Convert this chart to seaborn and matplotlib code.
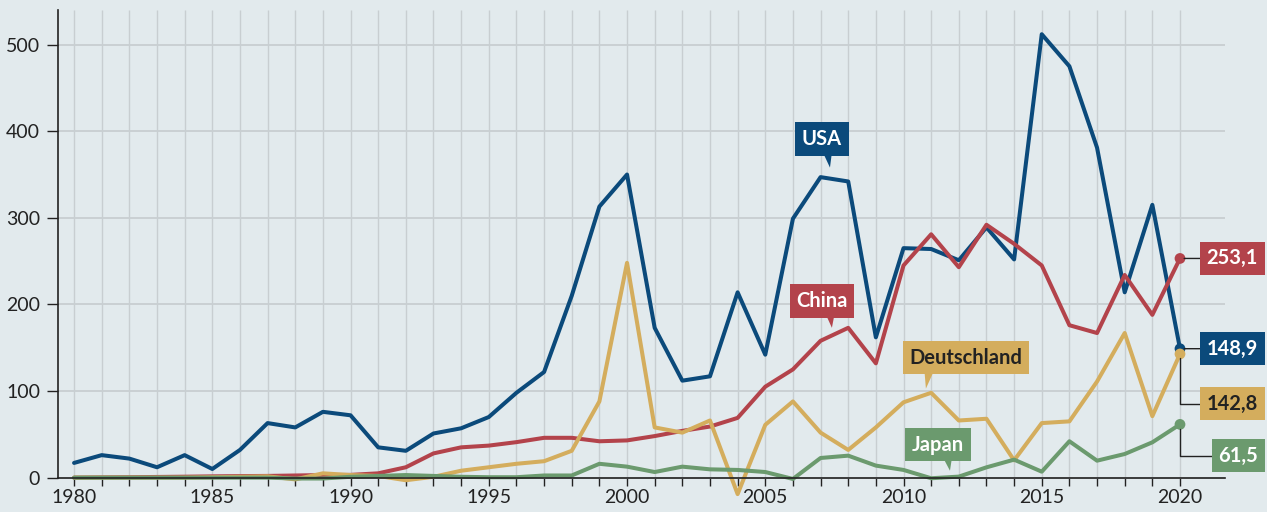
import pandas as pd
import matplotlib
matplotlib.use("Agg")
from matplotlib import pyplot as plt
import seaborn as sns

years = list(range(1980, 2021))

usa = [17, 26, 22, 12, 26, 10, 32, 63, 58, 76,
       72, 35, 31, 51, 57, 70, 98, 122, 210, 313,
       350, 173, 112, 117, 214, 142, 299, 347, 342, 162,
       265, 264, 251, 289, 252, 512, 475, 381, 214, 315,
       148.9]
china = [0, 0.3, 0.5, 0.8, 1.1, 1.5, 1.8, 2, 2.5, 3,
         3.2, 5, 12, 28, 35, 37, 41, 46, 46, 42,
         43, 48, 54, 59, 69, 105, 125, 158, 173, 132,
         245, 281, 243, 292, 270, 245, 176, 167, 234, 188,
         253.1]
germany = [0, 0, 0, 0, 0, 0.5, 1, 1.5, -2, 5,
           3, 2, -3, 1, 8, 12, 16, 19, 31, 88,
           248, 58, 52, 66, -19, 61, 88, 52, 32, 58,
           87, 98, 66, 68, 20, 63, 65, 111, 167, 71,
           142.8]
japan = [0, 0, 0, 0, 0, 0, 0, 0, -1, -1,
         1, 2, 3, 2, 1, 0.5, 0.5, 2.5, 2.5, 16,
         12.7, 6.5, 12.7, 9.6, 8.9, 6.5, -1.5, 22.7, 25.4, 13.9,
         8.9, -0.7, 1.2, 11.9, 20.8, 6.9, 42, 19.6, 27.3, 40.8,
         61.5]

countries = ["USA", "China", "Deutschland", "Japan"]
end_labels = ["148,9", "253,1", "142,8", "61,5"]
colors = {"USA": "#0b4a7b", "China": "#b3434b", "Deutschland": "#d4ad5d", "Japan": "#6b9a6e"}
text_colors = {"USA": "white", "China": "white", "Deutschland": "#222222", "Japan": "white"}

df = pd.DataFrame({
    "Jahr": years * 4,
    "Wert": usa + china + germany + japan,
    "Land": [c for c in countries for _ in years],
})

bg = "#e2eaed"
grid = "#c8ced1"
sns.set_style("ticks", {"axes.facecolor": bg, "figure.facecolor": bg})
plt.rcParams['font.family'] = ['Lato', 'DejaVu Sans']

fig = plt.figure(figsize=(12.67, 5.12), dpi=100)
ax = fig.add_axes([0.0458, 0.0248, 0.9211, 0.9557])

# grid
ax.vlines(years, 0, 540, color=grid, lw=1, zorder=0)
ax.set_yticks(range(0, 600, 100))
ax.yaxis.grid(True, color=grid, lw=1.3, zorder=0)
ax.set_axisbelow(True)

sns.lineplot(data=df, x="Jahr", y="Wert", hue="Land", palette=colors,
             hue_order=countries, lw=2.9, legend=False, ax=ax)

# end dots
last = {"USA": usa[-1], "China": china[-1], "Deutschland": germany[-1], "Japan": japan[-1]}
for c in countries:
    ax.scatter([years[-1]], [last[c]], s=60, color=colors[c], zorder=5, edgecolor='none')

ax.set_xlim(1979.42, 2021.63)
ax.set_ylim(-25, 540)

# axes styling
for s in ["top", "right"]:
    ax.spines[s].set_visible(False)
ax.spines["bottom"].set_position(("data", 0))
ax.spines["left"].set_bounds(0, 540)
for s in ["bottom", "left"]:
    ax.spines[s].set_color("#222222")
    ax.spines[s].set_linewidth(1.2)
ax.set_xticks(range(1980, 2021, 5))
ax.set_xticks(years, minor=True)
ax.tick_params(axis="both", which="both", direction="out", length=6, width=1,
               color="#222222", labelsize=14, labelcolor="#222222")
ax.tick_params(axis="y", length=8, pad=5)
ax.tick_params(axis="x", pad=2)
ax.set_xlabel("")
ax.set_ylabel("")

# callout labels
callouts = {
    "USA": ((2007.05, 391), (2007.34, 358), 0.62),
    "China": ((2007.05, 204), (2007.41, 173), 0.65),
    "Deutschland": ((2012.26, 138.6), (2010.81, 102.8), 0.18),
    "Japan": ((2011.25, 38), (2011.68, 8), 0.67),
}
for c, (pos, tip, rx) in callouts.items():
    ax.annotate(c, xy=tip, xytext=pos, ha="center", va="center",
                fontsize=14.5, fontweight="bold", color=text_colors[c], zorder=6,
                bbox=dict(boxstyle="square,pad=0.33", fc=colors[c], ec="none"),
                arrowprops=dict(arrowstyle="wedge,tail_width=0.6,shrink_factor=0.5",
                                fc=colors[c], ec="none", relpos=(rx, 0.1),
                                patchA=None, shrinkA=0, shrinkB=0))

# end value labels
label_y = {"USA": 148.9, "China": 253.1, "Deutschland": 85.5, "Japan": 25.4}
for c, lab in zip(countries, end_labels):
    if c in ("Deutschland", "Japan"):
        conn = "angle,angleA=0,angleB=90,rad=0"
    else:
        conn = "arc3"
    ax.annotate(lab, xy=(years[-1], last[c]), xytext=(2022.82, label_y[c]),
                ha="right", va="center", fontsize=14.5, fontweight="bold",
                color=text_colors[c], annotation_clip=False, zorder=6,
                bbox=dict(boxstyle="square,pad=0.33", fc=colors[c], ec="none"),
                arrowprops=dict(arrowstyle="-", color="#222222", lw=1,
                                relpos=(0, 0.5), connectionstyle=conn,
                                shrinkA=0, shrinkB=3))

plt.savefig("out.png", dpi=100, facecolor=bg)
